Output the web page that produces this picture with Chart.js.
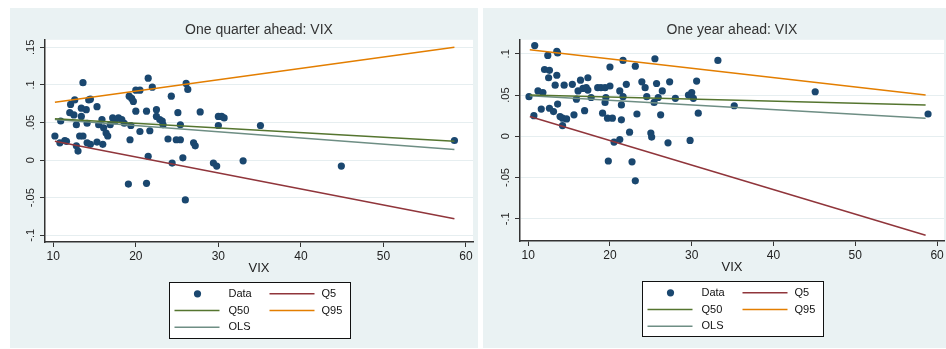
<!DOCTYPE html>
<html>
<head>
<meta charset="utf-8">
<script src="https://cdn.jsdelivr.net/npm/chart.js@4.4.1/dist/chart.umd.min.js"></script>
<style>
  html, body { margin: 0; padding: 0; background: #ffffff; }
  body { width: 946px; height: 349px; overflow: hidden; position: relative; }
  .panel { position: absolute; top: 8px; height: 340px; background: #eaf2f3; overflow: hidden; }
  #p1 { left: 10px; width: 468px; }
  #p2 { left: 483px; width: 470px; }
  canvas { display: block; }
</style>
</head>
<body>
<div class="panel" id="p1"><canvas id="c1" width="468" height="340"></canvas></div>
<div class="panel" id="p2"><canvas id="c2" width="470" height="340"></canvas></div>
<script>
// ---- One quarter ahead: VIX level vs. subsequent return ----
const vixQuarter = [10.2,10.9,10.8,11.4,11.6,12.1,12.6,12.0,12.5,12.8,
  12.8,13.0,13.6,13.4,13.4,13.2,13.6,14.0,14.1,14.3,
  14.5,14.1,14.5,15.3,15.3,15.5,15.9,16.0,16.1,16.4,
  16.6,16.9,17.2,17.5,17.9,18.3,18.6,19.2,19.5,19.7,
  19.3,19.4,20.0,20.0,20.5,20.5,21.3,21.5,21.7,21.5,
  22.0,22.5,22.5,22.9,23.2,23.3,23.9,24.3,24.4,24.9,
  25.1,25.4,25.4,25.7,26.1,26.3,27.0,27.2,27.8,29.4,
  29.8,30.0,30.0,30.4,30.7,33.0,35.1,44.9,58.6,19.1,
  21.3,26.0];
const retQuarter = [0.032,0.052,0.023,0.026,0.025,0.074,0.080,0.063,0.060,0.047,
  0.019,0.012,0.103,0.069,0.058,0.032,0.032,0.067,0.049,0.080,
  0.081,0.023,0.021,0.071,0.024,0.047,0.054,0.021,0.043,0.036,
  0.032,0.047,0.056,0.052,0.056,0.054,0.049,0.085,0.082,0.078,
  0.027,0.046,0.065,0.093,0.093,0.038,0.065,0.109,0.039,0.005,
  0.097,0.067,0.058,0.054,0.052,0.047,0.028,0.085,-0.004,0.027,
  0.063,0.027,0.047,0.003,0.102,0.094,0.023,0.019,0.064,-0.004,
  -0.008,0.058,0.046,0.058,0.056,-0.001,0.046,-0.008,0.026,-0.032,
  -0.031,-0.053];
// fitted lines, evaluated at the ends of the VIX range
const fitX = [10.2, 58.6];
const q5Quarter  = [0.025, -0.078];
const q50Quarter = [0.055, 0.025];
const q95Quarter = [0.077, 0.150];
const olsQuarter = [0.054, 0.014];
const yTicksQuarter = [-0.1, -0.05, 0, 0.05, 0.1, 0.15];

// ---- One year ahead: VIX level vs. subsequent return ----
const vixYear = [10.1,10.8,10.7,11.2,11.6,11.8,12.0,12.4,12.6,12.5,
  12.6,13.1,13.3,13.5,13.5,13.6,13.6,13.9,14.2,14.2,
  14.4,14.7,15.4,15.6,15.9,16.1,16.4,16.7,16.9,17.1,
  17.3,17.3,17.7,18.5,18.9,19.1,19.4,19.5,19.4,19.7,
  20.0,20.0,20.3,20.5,21.2,21.2,21.4,21.4,21.6,21.6,
  22.0,22.4,23.1,23.3,23.9,24.3,24.5,25.0,25.1,25.4,
  25.5,25.7,25.9,26.2,26.4,27.1,27.3,28.0,29.6,29.8,
  30.0,30.2,30.6,30.8,33.2,35.2,45.1,58.9,19.8,22.7,
  23.1];
const retYear = [0.048,0.110,0.025,0.055,0.033,0.053,0.081,0.098,0.080,0.071,
  0.034,0.030,0.062,0.074,0.103,0.101,0.039,0.024,0.013,0.022,
  0.062,0.021,0.063,0.026,0.045,0.055,0.068,0.058,0.031,0.059,
  0.071,0.056,0.047,0.059,0.059,0.028,0.059,0.047,0.041,0.022,
  0.084,0.061,0.022,-0.007,0.055,-0.004,0.038,0.020,0.092,0.048,
  0.063,0.005,0.085,0.027,0.066,0.059,0.048,0.004,-0.001,0.041,
  0.094,0.064,0.047,0.026,0.055,-0.008,0.066,0.046,0.050,-0.005,
  0.053,0.046,0.067,0.028,0.092,0.037,0.054,0.027,-0.030,-0.031,
  -0.054];
const q5Year  = [0.024, -0.120];
const q50Year = [0.050, 0.038];
const q95Year = [0.105, 0.050];
const olsYear = [0.049, 0.022];
const yTicksYear = [-0.1, -0.05, 0, 0.05, 0.1];

const xTicks = [10, 20, 30, 40, 50, 60];
const seriesNames = ['Data', 'Q5', 'Q50', 'Q95', 'OLS'];

// colours
const navy = '#1a476f', maroon = '#90353b', forest = '#55752f', dkorange = '#e37e00', teal = '#6e8e84';
const FONT = "'Liberation Sans', Arial, Helvetica, sans-serif";
const INK = '#222222';
const DOT = 3.6;

Chart.defaults.font.family = FONT;
Chart.defaults.color = INK;

function stataNum(v) {
  const r = Math.round(v * 100) / 100;
  if (r === 0) return '0';
  return String(r).replace('0.', '.');
}

// white plot region on the tinted graph region
const plotBg = {
  id: 'plotBg',
  beforeDraw(chart) {
    const { ctx, chartArea: a } = chart;
    ctx.save();
    ctx.fillStyle = '#ffffff';
    ctx.fillRect(a.left, a.top, a.right - a.left, a.bottom - a.top);
    ctx.restore();
  }
};

// vertical y tick labels
const yLabels = {
  id: 'yLabels',
  afterDraw(chart) {
    const s = chart.scales.y, ctx = chart.ctx;
    ctx.save();
    ctx.font = '11px ' + FONT;
    ctx.fillStyle = INK;
    ctx.textAlign = 'center';
    ctx.textBaseline = 'middle';
    s.ticks.forEach(t => {
      const y = s.getPixelForValue(t.value);
      ctx.save();
      ctx.translate(s.right - 14, y);
      ctx.rotate(-Math.PI / 2);
      ctx.fillText(stataNum(t.value), 0, 0);
      ctx.restore();
    });
    ctx.restore();
  }
};

// boxed two-column legend under the plot
const boxLegend = {
  id: 'boxLegend',
  afterDraw(chart, args, opts) {
    const ctx = chart.ctx, a = chart.chartArea;
    const w = 181, h = opts.height;
    const left = Math.round((a.left + a.right) / 2 - w / 2) + 0.5;
    const top = opts.top + 0.5;
    ctx.save();
    ctx.fillStyle = '#ffffff';
    ctx.fillRect(left, top, w, h);
    ctx.strokeStyle = '#111111';
    ctx.lineWidth = 1;
    ctx.strokeRect(left, top, w, h);
    ctx.font = '11px ' + FONT;
    ctx.textBaseline = 'middle';
    ctx.textAlign = 'left';
    chart.data.datasets.forEach((ds, i) => {
      const row = Math.floor(i / 2), col = i % 2;
      const y = top + 11.3 + row * 16.7;
      const x0 = left + 5 + col * 95;
      if (ds.type === 'scatter') {
        ctx.fillStyle = ds.backgroundColor;
        ctx.beginPath();
        ctx.arc(x0 + 23, y, DOT, 0, Math.PI * 2);
        ctx.fill();
      } else {
        ctx.strokeStyle = ds.borderColor;
        ctx.lineWidth = 1.5;
        ctx.beginPath();
        ctx.moveTo(x0, y);
        ctx.lineTo(x0 + 45, y);
        ctx.stroke();
      }
      ctx.fillStyle = '#111111';
      ctx.fillText(ds.label, left + 59 + col * 93, y);
    });
    ctx.restore();
  }
};

function pts(xs, ys) { return xs.map((x, i) => ({ x, y: ys[i] })); }

function makeChart(id, spec) {
  const lineSet = (label, ys, color) => ({
    type: 'line', label, data: pts(fitX, ys), borderColor: color, backgroundColor: color,
    borderWidth: 1.5, pointRadius: 0, fill: false, tension: 0, order: 1
  });
  return new Chart(document.getElementById(id), {
    type: 'scatter',
    data: {
      datasets: [
        { type: 'scatter', label: seriesNames[0], data: pts(spec.vix, spec.ret),
          backgroundColor: navy, borderColor: navy, pointRadius: DOT, borderWidth: 0, order: 5 },
        lineSet(seriesNames[1], spec.q5, maroon),
        lineSet(seriesNames[2], spec.q50, forest),
        lineSet(seriesNames[3], spec.q95, dkorange),
        lineSet(seriesNames[4], spec.ols, teal)
      ]
    },
    options: {
      responsive: false,
      animation: false,
      devicePixelRatio: 1,
      events: [],
      layout: { padding: { left: 0, top: 0, right: spec.padRight, bottom: spec.padBottom } },
      plugins: {
        legend: { display: false },
        tooltip: { enabled: false },
        title: {
          display: true, text: spec.title, fullSize: false, color: '#333333',
          font: { size: 14, weight: 'normal' }, padding: { top: 14, bottom: 1 }
        },
        boxLegend: { top: spec.legendTop, height: spec.legendHeight }
      },
      scales: {
        x: {
          type: 'linear', position: 'bottom', min: 9, max: 60.85,
          afterBuildTicks: s => { s.ticks = xTicks.map(v => ({ value: v })); },
          afterFit: s => { s.height = 34; },
          ticks: { font: { size: 12 }, color: INK, padding: 2, maxRotation: 0 },
          grid: { drawOnChartArea: false, drawTicks: true, tickLength: 5, tickColor: '#333333', tickWidth: 1 },
          border: { display: true, color: '#333333', width: 1.5 },
          title: { display: true, text: 'VIX', font: { size: 13 }, color: INK, padding: { top: 0, bottom: 0 } }
        },
        y: {
          type: 'linear', position: 'left', min: spec.yMin, max: spec.yMax,
          afterBuildTicks: s => { s.ticks = spec.yTicks.map(v => ({ value: v })); },
          afterFit: s => { s.width = spec.yWidth; },
          ticks: { display: false },
          grid: { color: '#e6eef0', lineWidth: 1, drawTicks: true, tickLength: 5, tickColor: '#333333', tickWidth: 1 },
          border: { display: true, color: '#333333', width: 1.5 }
        }
      }
    },
    plugins: [plotBg, yLabels, boxLegend]
  });
}

makeChart('c1', {
  title: 'One quarter ahead: VIX',
  vix: vixQuarter, ret: retQuarter,
  q5: q5Quarter, q50: q50Quarter, q95: q95Quarter, ols: olsQuarter,
  yTicks: yTicksQuarter, yMin: -0.109, yMax: 0.16,
  yWidth: 35, padRight: 5, padBottom: 72, legendTop: 274, legendHeight: 56
});

makeChart('c2', {
  title: 'One year ahead: VIX',
  vix: vixYear, ret: retYear,
  q5: q5Year, q50: q50Year, q95: q95Year, ols: olsYear,
  yTicks: yTicksYear, yMin: -0.127, yMax: 0.117,
  yWidth: 37, padRight: 9, padBottom: 73, legendTop: 273, legendHeight: 55
});
</script>
</body>
</html>
